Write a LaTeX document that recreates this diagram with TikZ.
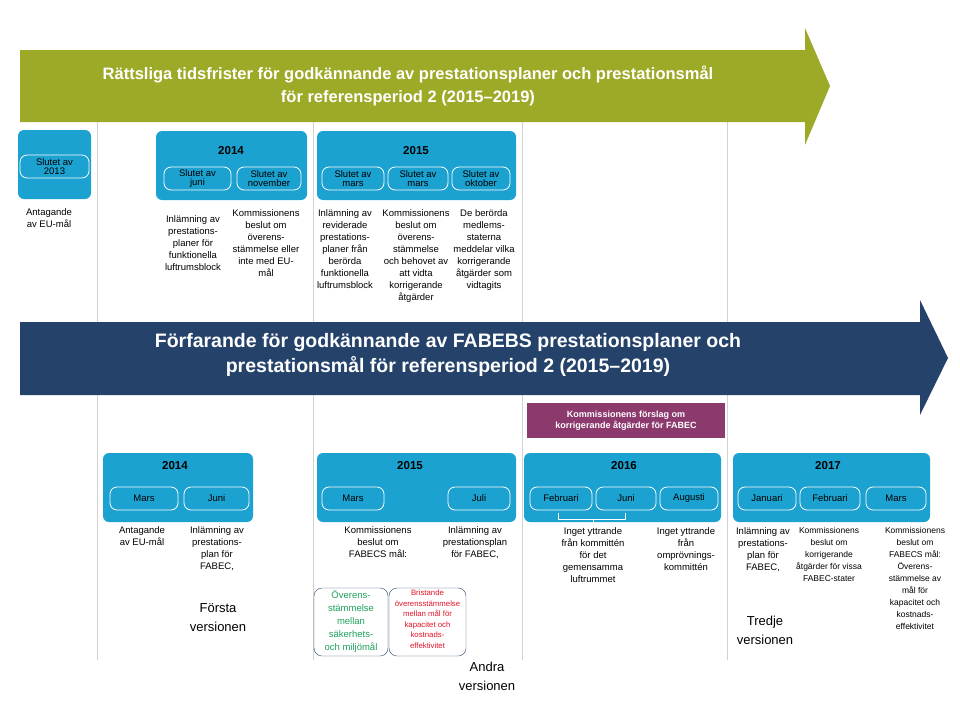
\documentclass[tikz,border=0pt]{standalone}
\usepackage{fontspec}
\setmainfont{Liberation Sans}
\usetikzlibrary{positioning}
\definecolor{olive}{RGB}{157,170,40}
\definecolor{navy}{RGB}{36,66,106}
\definecolor{cyanbox}{RGB}{27,162,208}
\definecolor{plum}{RGB}{140,58,110}
\definecolor{okgreen}{RGB}{30,160,90}
\definecolor{badred}{RGB}{225,20,40}
\tikzset{
	yearbox/.style={fill=cyanbox,rounded corners=6pt},
	pill/.style={draw=white,thick,rounded corners=7pt,minimum height=23pt,inner sep=0pt,font=\fontsize{9.5}{8.5}\selectfont,align=center},
	note/.style={font=\fontsize{9.5}{12}\selectfont,align=center,inner sep=0pt,anchor=north},
	yearlbl/.style={font=\fontsize{11.5}{12}\selectfont\bfseries},
	version/.style={font=\fontsize{13}{19}\selectfont,align=center},
	grid/.style={gray!35,line width=0.8pt}
}
\begin{document}
\begin{tikzpicture}[x=1pt,y=-1pt]
	\useasboundingbox (0,0) rectangle (960,720);
	% timeline separators
	\foreach \x in {97,313,522,727}
		\draw[grid] (\x,122) -- (\x,660);
	% top arrow
	\fill[olive] (20,50) -- (805,50) -- (805,28) -- (830,86) -- (805,145) -- (805,122) -- (20,122) -- cycle;
	\node[text=white,font=\fontsize{16.5}{23}\selectfont\bfseries,align=center] (toptitle) at (408,86)
		{Rättsliga tidsfrister för godkännande av prestationsplaner och prestationsmål\\för referensperiod 2 (2015--2019)};
	% top boxes
	\fill[yearbox] (18,130) rectangle (91,199);
	\node[pill,minimum width=69pt] (t13) at (54.5,166.5) {Slutet av\\2013};
	\fill[yearbox] (156,131) rectangle (307,200);
	\node[yearlbl] (y14a) at (231,151) {2014};
	\node[pill,minimum width=67pt] (tjun) at (197.5,178.5) {Slutet av\\juni};
	\node[pill,minimum width=64pt] (tnov) at (269,178.5) {Slutet av\\november};
	\fill[yearbox] (317,131) rectangle (516,200);
	\node[yearlbl] (y15a) at (416,151) {2015};
	\node[pill,minimum width=62pt] (tmar1) at (353,178.5) {Slutet av\\mars};
	\node[pill,minimum width=60pt] (tmar2) at (418,178.5) {Slutet av\\mars};
	\node[pill,minimum width=58pt] (tokt) at (481,178.5) {Slutet av\\oktober};
	% top notes
	\node[note] (n1) at (49,208) {Antagande\\av EU-mål};
	\node[note] (n2) at (193,215) {Inlämning av\\prestations-\\planer för\\funktionella\\luftrumsblock};
	\node[note] (n3) at (266,209) {Kommissionens\\beslut om\\överens-\\stämmelse eller\\inte med EU-\\mål};
	\node[note] (n4) at (345,209) {Inlämning av\\reviderade\\prestations-\\planer från\\berörda\\funktionella\\luftrumsblock};
	\node[note] (n5) at (416,209) {Kommissionens\\beslut om\\överens-\\stämmelse\\och behovet av\\att vidta\\korrigerande\\åtgärder};
	\node[note] (n6) at (484,209) {De berörda\\medlems-\\staterna\\meddelar vilka\\korrigerande\\åtgärder som\\vidtagits};
	% middle arrow
	\fill[navy] (20,322) -- (920,322) -- (920,300) -- (948,358) -- (920,415) -- (920,395) -- (20,395) -- cycle;
	\node[text=white,font=\fontsize{19.5}{25}\selectfont\bfseries,align=center] (midtitle) at (448,355)
		{Förfarande för godkännande av FABEBS prestationsplaner och\\prestationsmål för referensperiod 2 (2015--2019)};
	\fill[plum] (527,403) rectangle (725,438);
	\node[text=white,font=\fontsize{9}{11}\selectfont\bfseries,align=center] (korr) at (626,420.5)
		{Kommissionens förslag om\\korrigerande åtgärder för FABEC};
	% bottom boxes
	\fill[yearbox] (103,453) rectangle (253,522);
	\node[yearlbl] (y14b) at (175,466) {2014};
	\node[pill,minimum width=68pt] (bmar14) at (144,498.5) {Mars};
	\node[pill,minimum width=65pt] (bjun14) at (216.5,498.5) {Juni};
	\fill[yearbox] (317,453) rectangle (516,522);
	\node[yearlbl] (y15b) at (410,466) {2015};
	\node[pill,minimum width=62pt] (bmar15) at (353,498.5) {Mars};
	\node[pill,minimum width=62pt] (bjul15) at (479,498.5) {Juli};
	\fill[yearbox] (524,453) rectangle (721,522);
	\node[yearlbl] (y16) at (624,466) {2016};
	\node[pill,minimum width=62pt] (bfeb16) at (561,498.5) {Februari};
	\node[pill,minimum width=60pt] (bjun16) at (626,498.5) {Juni};
	\node[pill,minimum width=58pt] (baug16) at (689,498.5) {Augusti};
	\fill[yearbox] (733,453) rectangle (930,522);
	\node[yearlbl] (y17) at (828,466) {2017};
	\node[pill,minimum width=58pt] (bjan17) at (767,498.5) {Januari};
	\node[pill,minimum width=60pt] (bfeb17) at (830,498.5) {Februari};
	\node[pill,minimum width=60pt] (bmar17) at (896,498.5) {Mars};
	\draw[white,thin] (558,513) -- (558,519) -- (625,519) -- (625,513) (593,519) -- (593,526);
	% bottom notes
	\node[note] (m1) at (142,526) {Antagande\\av EU-mål};
	\node[note] (m2) at (217,526) {Inlämning av\\prestations-\\plan för\\FABEC,};
	\node[note] (m3) at (378,526) {Kommissionens\\beslut om\\FABECS mål:};
	\node[note] (m4) at (475,526) {Inlämning av\\prestationsplan\\för FABEC,};
	\node[note] (m5) at (593,527) {Inget yttrande\\från kommittén\\för det\\gemensamma\\luftrummet};
	\node[note] (m6) at (686,527) {Inget yttrande\\från\\omprövnings-\\kommittén};
	\node[note] (m7) at (763,527) {Inlämning av\\prestations-\\plan för\\FABEC,};
	\node[note,font=\fontsize{8.5}{12}\selectfont] (m8) at (829,527) {Kommissionens\\beslut om\\korrigerande\\åtgärder för vissa\\FABEC-stater};
	\node[note,font=\fontsize{8.5}{12}\selectfont] (m9) at (915,527) {Kommissionens\\beslut om\\FABECS mål:\\Överens-\\stämmelse av\\mål för\\kapacitet och\\kostnads-\\effektivitet};
	% outcome boxes
	\draw[navy,rounded corners=8pt] (314,588) rectangle (388,656);
	\node[note,text=okgreen,font=\fontsize{9.5}{13}\selectfont] (ok) at (351,590) {Överens-\\stämmelse\\mellan\\säkerhets-\\och miljömål};
	\draw[navy,rounded corners=8pt] (389,588) rectangle (466,656);
	\node[note,text=badred,font=\fontsize{7.8}{10.5}\selectfont] (bad) at (427.5,590) {Bristande\\överensstämmelse\\mellan mål för\\kapacitet och\\kostnads-\\effektivitet};
	% versions
	\node[version] (v1) at (218,618) {Första\\versionen};
	\node[version] (v2) at (487,676) {Andra\\versionen};
	\node[version] (v3) at (765,630) {Tredje\\versionen};
\end{tikzpicture}
\end{document}
